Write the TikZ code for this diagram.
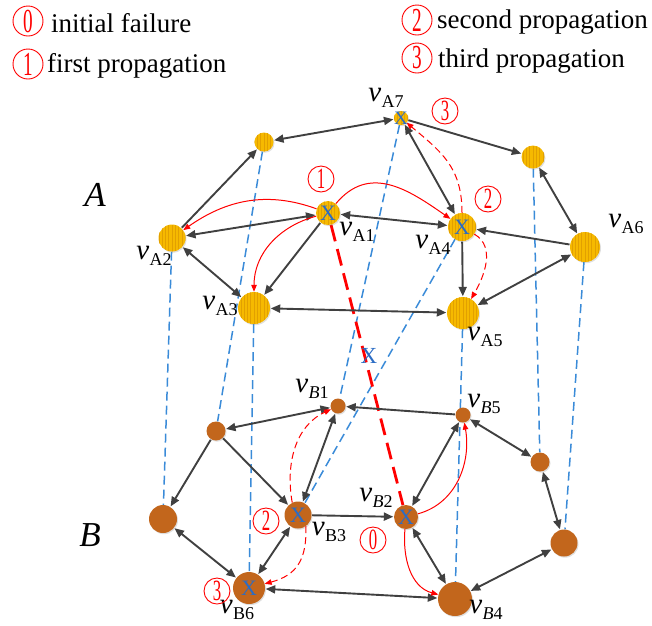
\documentclass[tikz,border=0pt]{standalone}
\usepackage{fontspec}
\setmainfont{Liberation Serif}
\usepackage{graphicx}
\usetikzlibrary{arrows.meta,shadows}
\pgfdeclarelayer{bg}
\pgfsetlayers{bg,main}
\definecolor{ayel}{HTML}{F6B900}
\definecolor{ayelS}{HTML}{E2A000}
\definecolor{bbrn}{HTML}{C2661C}
\definecolor{dgray}{HTML}{404040}
\definecolor{iblue}{HTML}{3A8BD8}
\definecolor{xblue}{HTML}{2B6CC4}
\newcommand{\vlab}[1]{{\fontsize{29}{29}\selectfont\textit{v}}\kern0.3pt\raisebox{-6pt}{\fontsize{18}{18}\selectfont #1}}
\newcommand{\cdig}[1]{\scalebox{0.8}[1.4]{#1}}
\tikzset{
  nd/.style={circle, inner sep=0pt, minimum size=#1, drop shadow={shadow xshift=1pt, shadow yshift=-1.2pt, opacity=0.25}},
  anode/.style={nd=#1, fill=ayel, path picture={\foreach \k in {-9,...,9}{\draw[ayelS, line width=0.5pt] ([xshift=\k*3.3pt]path picture bounding box.south) -- ([xshift=\k*3.3pt]path picture bounding box.north);}}},
  bnode/.style={nd=#1, fill=bbrn},
  blk/.style={draw=dgray, line width=1.9pt, >={Triangle[length=9.5pt,width=8pt]}, shorten >=0.5pt, shorten <=0.5pt},
  rsol/.style={draw=red, line width=1pt, ->, >={Triangle[length=7pt,width=5.5pt]}},
  rdash/.style={rsol, dash pattern=on 7pt off 4pt},
  idash/.style={draw=iblue, line width=1.5pt, dash pattern=on 9pt off 5pt},
  fdash/.style={draw=red, line width=2.8pt, dash pattern=on 17pt off 8pt},
  xmark/.style={text=xblue, inner sep=0pt, font=\fontsize{22}{22}\selectfont},
  cnum/.style={circle, draw=red, line width=0.9pt, text=red, minimum size=26pt, inner sep=0pt, font=\fontsize{21}{21}\selectfont},
  cnumL/.style={cnum, minimum size=30pt, font=\fontsize{24}{24}\selectfont},
  legtxt/.style={inner sep=0pt, font=\fontsize{27}{27}\selectfont},
  vtxt/.style={inner sep=0pt},
  laytxt/.style={inner sep=0pt, font=\fontsize{35}{35}\selectfont\itshape}
}
\begin{document}
\begin{tikzpicture}[x=1pt,y=-1pt]
\useasboundingbox (0,0) rectangle (652,625);
% layer A nodes
\node[anode=14] (A7) at (401,118) {};
\node[anode=19] (A8) at (264,142) {};
\node[anode=23] (A9) at (533,157) {};
\node[anode=24] (A1) at (328,213) {};
\node[anode=28] (A4) at (462,227) {};
\node[anode=27] (A2) at (172,238) {};
\node[anode=30] (A6) at (585,247) {};
\node[anode=32] (A3) at (254,308) {};
\node[anode=32] (A5) at (463,313) {};
% layer B nodes
\node[bnode=15] (B1) at (338,406) {};
\node[bnode=15] (B5) at (463,415) {};
\node[bnode=19] (B7) at (216,431) {};
\node[bnode=19] (B8) at (540,462) {};
\node[bnode=27] (B3) at (298,515) {};
\node[bnode=24] (B2) at (406,517) {};
\node[bnode=28] (B9) at (163,519) {};
\node[bnode=27] (B10) at (564,543) {};
\node[bnode=32] (B6) at (249,588) {};
\node[bnode=34] (B4) at (455,599) {};
% interlayer links
\begin{pgfonlayer}{bg}
\draw[idash] (A2) -- (B9);
\draw[idash] (A8) -- (B7);
\draw[idash] (A3) -- (B6);
\draw[idash] (A7) -- (B1);
\draw[idash] (A4) -- (B3);
\draw[idash] (A5) -- (B4);
\draw[idash] (A9) -- (B8);
\draw[idash] (A6) -- (B10);
\draw[fdash] (A1) -- (B2);
\end{pgfonlayer}
% layer A edges
\draw[blk,<->] (A8) -- (A7);
\draw[blk,->] (A2) -- (A8);
\draw[blk,<->] (A2) -- (A1);
\draw[blk,<->] (A2) -- (A3);
\draw[blk,->] (A1) -- (A3);
\draw[blk,<->] (A1) -- (A4);
\draw[blk,<->] (A7) -- (A4);
\draw[blk,->] (A7) -- (A9);
\draw[blk,<->] (A9) -- (A6);
\draw[blk,->] (A6) -- (A4);
\draw[blk,->] (A4) -- (A5);
\draw[blk,<->] (A6) -- (A5);
\draw[blk,<->] (A3) -- (A5);
% layer B edges
\draw[blk,->] (B5) -- (B1);
\draw[blk,<->] (B7) -- (B1);
\draw[blk,->] (B7) -- (B9);
\draw[blk,->] (B7) -- (B3);
\draw[blk,<->] (B1) -- (B3);
\draw[blk,->] (B3) -- (B2);
\draw[blk,<->] (B9) -- (B6);
\draw[blk,<->] (B3) -- (B6);
\draw[blk,<->] (B6) -- (B4);
\draw[blk,<->] (B2) -- (B5);
\draw[blk,<->] (B2) -- (B4);
\draw[blk,<->] (B5) -- (B8);
\draw[blk,<->] (B8) -- (B10);
\draw[blk,<->] (B10) -- (B4);
% propagation (red)
\draw[rsol] (A1) to[out=160,in=35] (A2);
\draw[rsol] (A1) to[out=195,in=90] (A3);
\draw[rsol] (A1) to[out=50,in=145,looseness=1.15] (A4);
\draw[rdash] (A4) to[out=90,in=-40,looseness=1.1] (A7);
\draw[rdash] (A4) to[out=-30,in=60] (A5);
\draw[rsol] (B2) to[out=15,in=-80] (B5);
\draw[rsol] (B2) to[out=-95,in=165] (B4);
\draw[rdash] (B3.115) to[out=100,in=205] (B1);
\draw[rdash] (B3.-55) to[out=-88,in=15,looseness=1.2] (B6);
% failure marks
\node[xmark] (XA1) at (A1) {X};
\node[xmark] (XA4) at (A4) {X};
\node[xmark, font=\fontsize{19}{19}\selectfont] (XA7) at (A7) {X};
\node[xmark] (XB2) at (B2) {X};
\node[xmark] (XB3) at (B3) {X};
\node[xmark] (XB6) at (B6) {X};
\node[xmark, font=\fontsize{23}{23}\selectfont] (XM) at (369,356) {X};
% node labels
\node[vtxt] (lA7) at (386,98) {\vlab{A7}};
\node[vtxt] (lA1) at (357,232) {\vlab{A1}};
\node[vtxt] (lA2) at (154,256) {\vlab{A2}};
\node[vtxt] (lA3) at (220,306) {\vlab{A3}};
\node[vtxt] (lA4) at (433,245) {\vlab{A4}};
\node[vtxt] (lA5) at (485,337) {\vlab{A5}};
\node[vtxt] (lA6) at (626,224) {\vlab{A6}};
\node[vtxt] (lB1) at (312,389) {\vlab{\textit{B}1}};
\node[vtxt] (lB5) at (484,404) {\vlab{\textit{B}5}};
\node[vtxt] (lB2) at (376,498) {\vlab{\textit{B}2}};
\node[vtxt] (lB3) at (329,532) {\vlab{B3}};
\node[vtxt] (lB6) at (237,610) {\vlab{B6}};
\node[vtxt] (lB4) at (486,610) {\vlab{\textit{B}4}};
% layer names
\node[laytxt] (LA) at (95,195) {A};
\node[laytxt] (LB) at (90,535) {B};
% step markers
\node[cnum] (S1) at (321,179) {\cdig{1}};
\node[cnum] (S2a) at (488,199) {\cdig{2}};
\node[cnum] (S3a) at (445,111) {\cdig{3}};
\node[cnum] (S2b) at (266,521) {\cdig{2}};
\node[cnum] (S3b) at (217,591) {\cdig{3}};
\node[cnum] (S0) at (373,540) {\cdig{0}};
% legend
\node[cnumL] (L0) at (28,21) {\cdig{0}};
\node[legtxt, anchor=base west] (T0) at (51,32) {initial failure};
\node[cnumL] (L1) at (28,64) {\cdig{1}};
\node[legtxt, anchor=base west] (T1) at (47,72) {first propagation};
\node[cnumL] (L2) at (417,20) {\cdig{2}};
\node[legtxt, anchor=base west] (T2) at (437,28) {second propagation};
\node[cnumL] (L3) at (417,58) {\cdig{3}};
\node[legtxt, anchor=base west] (T3) at (438,67) {third propagation};
\end{tikzpicture}
\end{document}
